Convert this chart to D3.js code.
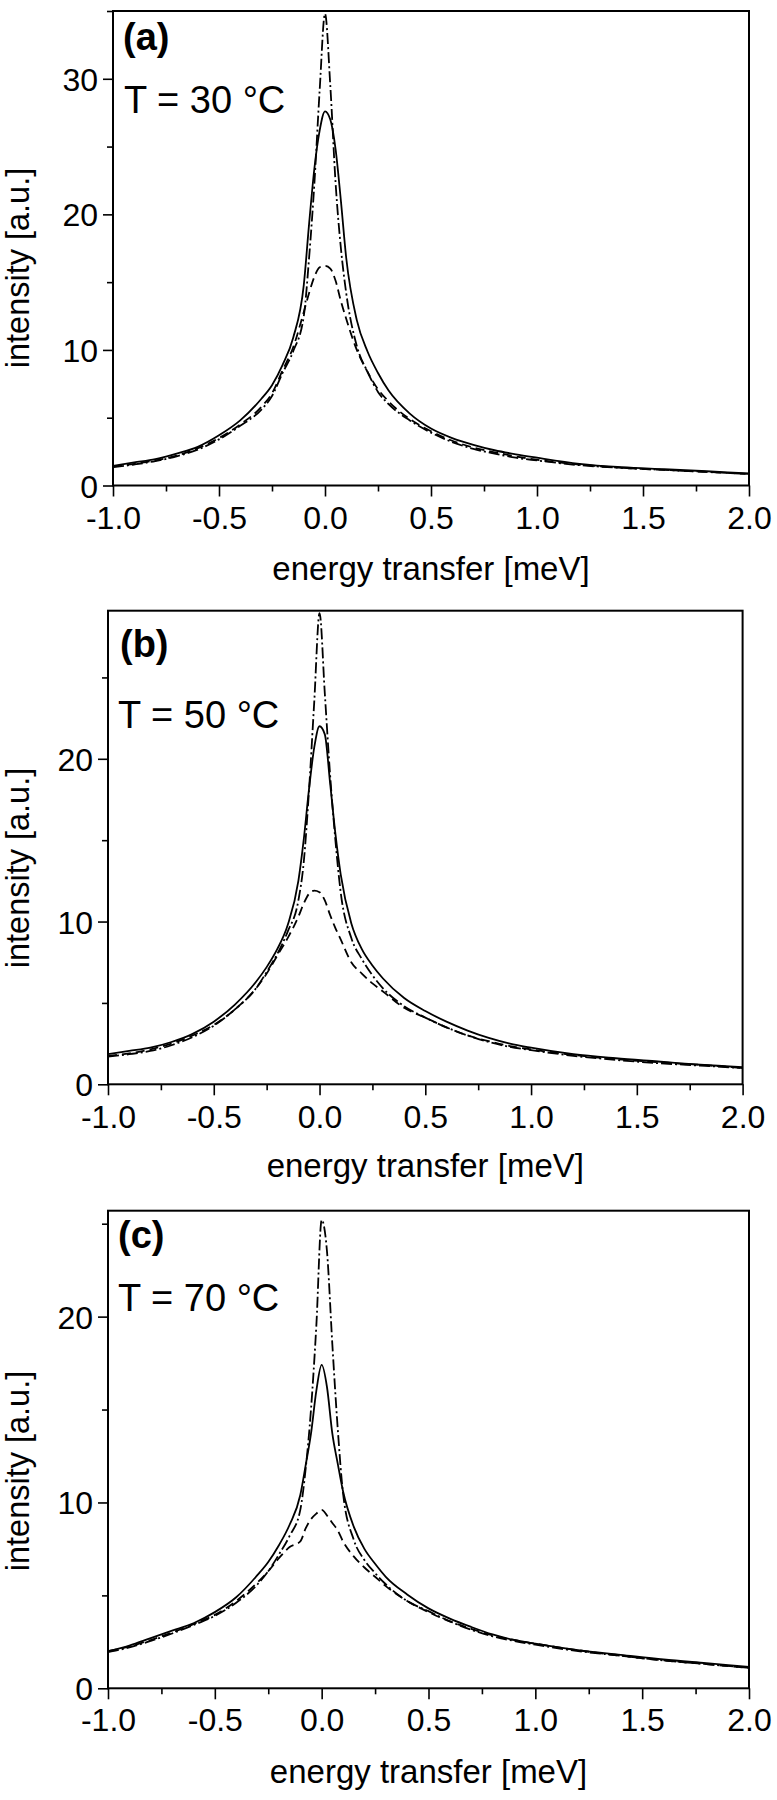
<!DOCTYPE html>
<html>
<head>
<meta charset="utf-8">
<script src="https://cdn.jsdelivr.net/npm/d3@7/dist/d3.min.js"></script>
<style>
  body { margin: 0; background: #fff; }
  svg { display: block; }
  text { font-family: "Liberation Sans", Arial, sans-serif; fill: #000; }
</style>
</head>
<body>
<script>
// energy transfer grid [meV]
const energy = [-1.0,-0.9,-0.8,-0.7,-0.6,-0.5,-0.4,-0.3,-0.25,-0.2,-0.15,-0.1,-0.075,-0.05,-0.025,0,
                0.025,0.05,0.075,0.1,0.15,0.2,0.25,0.3,0.4,0.5,0.6,0.7,0.8,0.9,1.0,1.2,1.4,1.6,1.8,2.0];

// (a) T = 30 °C
const a_solid   = [1.45,1.7,1.95,2.35,2.85,3.7,4.8,6.4,7.4,8.9,10.9,14.8,19.3,23.4,26.2,27.6,
                   27.0,24.8,21.0,16.8,12.2,9.9,8.3,7.0,5.3,4.2,3.5,3.0,2.6,2.3,2.05,1.6,1.35,1.2,1.05,0.9];
const a_dash    = [1.4,1.6,1.85,2.2,2.75,3.5,4.5,5.8,6.8,8.5,10.2,12.8,14.2,15.4,16.1,16.2,
                   16.0,15.1,13.6,12.3,10.0,8.4,7.1,6.2,4.9,4.0,3.3,2.8,2.45,2.15,1.9,1.55,1.3,1.15,1.0,0.85];
const a_dashdot = [1.35,1.55,1.8,2.15,2.65,3.4,4.4,5.6,6.6,8.3,9.9,12.5,16.8,22.3,29.2,34.8,
                   29.5,22.3,17.5,14.2,10.3,8.4,6.9,6.0,4.8,3.9,3.2,2.7,2.35,2.05,1.85,1.5,1.3,1.15,1.0,0.85];

// (b) T = 50 °C
const b_solid   = [1.85,2.05,2.25,2.6,3.1,3.85,4.9,6.3,7.2,8.3,9.8,12.5,15.0,18.1,20.7,22.0,
                   21.5,18.5,15.4,12.9,9.9,8.3,7.3,6.5,5.3,4.5,3.85,3.3,2.85,2.5,2.25,1.85,1.6,1.4,1.2,1.05];
const b_dash    = [1.75,1.9,2.15,2.5,3.0,3.65,4.6,5.9,6.8,7.9,9.0,10.3,11.1,11.7,11.9,11.8,
                   11.3,10.4,9.6,8.9,7.5,6.8,6.2,5.7,4.7,4.1,3.5,3.0,2.65,2.35,2.15,1.8,1.55,1.35,1.2,1.0];
const b_dashdot = [1.7,1.85,2.05,2.4,2.9,3.6,4.6,5.9,6.9,8.0,9.4,11.3,13.6,18.0,23.5,28.95,
                   24.0,19.0,15.0,11.8,9.0,7.7,6.7,5.9,4.8,4.1,3.5,3.0,2.6,2.3,2.1,1.75,1.5,1.3,1.15,1.0];

// (c) T = 70 °C
const c_solid   = [2.0,2.3,2.7,3.1,3.5,4.1,4.9,6.1,6.8,7.7,8.8,10.4,12.0,13.7,16.0,17.4,
                   16.2,13.7,12.1,10.6,8.7,7.5,6.7,6.0,5.05,4.3,3.75,3.3,2.9,2.6,2.4,2.05,1.8,1.55,1.35,1.15];
const c_dash    = [2.0,2.25,2.6,3.0,3.45,3.95,4.7,5.7,6.3,7.0,7.6,7.9,8.6,9.1,9.4,9.6,
                   9.3,8.9,8.5,7.9,7.1,6.5,6.0,5.5,4.7,4.1,3.6,3.2,2.85,2.6,2.4,2.05,1.75,1.5,1.3,1.1];
const c_dashdot = [1.95,2.2,2.55,2.95,3.4,3.9,4.6,5.6,6.3,7.2,8.2,9.6,11.8,15.0,19.5,25.2,
                   23.5,18.5,14.0,10.5,8.0,6.9,6.2,5.6,4.7,4.15,3.6,3.15,2.8,2.55,2.35,2.0,1.75,1.5,1.3,1.1];

// axis ticks
const xMajor = [-1.0,-0.5,0.0,0.5,1.0,1.5,2.0];
const xMinor = [-0.75,-0.25,0.25,0.75,1.25,1.75];
const yMajorA = [0,10,20,30], yMinorA = [5,15,25,35];
const yMajorB = [0,10,20],    yMinorB = [5,15,25];
const yMajorC = [0,10,20],    yMinorC = [5,15,25];

const panelLetters = ["(a)","(b)","(c)"];
const tempLabels = ["T = 30 °C","T = 50 °C","T = 70 °C"];
const xTitle = "energy transfer [meV]";
const yTitle = "intensity [a.u.]";

const panels = [
  {letter: panelLetters[0], temp: tempLabels[0], series: [a_solid, a_dash, a_dashdot], ymax: 35, yMajor: yMajorA, yMinor: yMinorA,
   L: 113, R: 749, T: 11, B: 485.5, letterPos: [123, 50], tempPos: [124, 113], tickBase: 528.5, xTitleBase: 580, yTitleCy: 268},
  {letter: panelLetters[1], temp: tempLabels[1], series: [b_solid, b_dash, b_dashdot], ymax: 29.1, yMajor: yMajorB, yMinor: yMinorB,
   L: 108, R: 742.6, T: 610.7, B: 1084.3, letterPos: [120, 657], tempPos: [118, 728], tickBase: 1127.5, xTitleBase: 1177, yTitleCy: 868},
  {letter: panelLetters[2], temp: tempLabels[2], series: [c_solid, c_dash, c_dashdot], ymax: 25.7, yMajor: yMajorC, yMinor: yMinorC,
   L: 108, R: 749, T: 1210.7, B: 1688.3, letterPos: [118, 1248], tempPos: [118, 1311], tickBase: 1731.3, xTitleBase: 1783, yTitleCy: 1471}
];

const styles = [
  {dash: null},
  {dash: "9,5"},
  {dash: "11,3,2,3"}
];

const svg = d3.select("body").append("svg").attr("width", 777).attr("height", 1800);

panels.forEach(p => {
  const x = d3.scaleLinear().domain([-1, 2]).range([p.L, p.R]);
  const y = d3.scaleLinear().domain([0, p.ymax]).range([p.B, p.T]);
  const g = svg.append("g");

  const clipId = "clip" + p.letter.replace(/[()]/g, "");
  svg.append("clipPath").attr("id", clipId).append("rect")
    .attr("x", p.L).attr("y", p.T - 1).attr("width", p.R - p.L).attr("height", p.B - p.T + 1);
  const line = d3.line().x((d, i) => x(energy[i])).y(d => y(d)).curve(d3.curveMonotoneX);
  p.series.forEach((s, k) => {
    g.append("path").datum(s)
      .attr("d", line)
      .attr("fill", "none")
      .attr("stroke", "#000")
      .attr("stroke-width", 1.8)
      .attr("stroke-dasharray", styles[k].dash)
      .attr("clip-path", `url(#${clipId})`);
  });

  // x axis major
  const xa = g.append("g").attr("transform", `translate(0,${p.B})`)
    .call(d3.axisBottom(x).tickValues(xMajor).tickSize(11).tickSizeOuter(0).tickFormat(d3.format(".1f")));
  xa.select(".domain").remove();
  xa.selectAll("line").attr("stroke-width", 1.6);
  xa.selectAll("text").attr("font-size", 32).attr("y", null).attr("dy", null)
    .attr("transform", `translate(0,${p.tickBase - p.B})`)
    .text(d => d3.format(".1f")(d).replace("−", "-"));
  // x axis minor
  const xm = g.append("g").attr("transform", `translate(0,${p.B})`)
    .call(d3.axisBottom(x).tickValues(xMinor).tickSize(6).tickSizeOuter(0).tickFormat(""));
  xm.select(".domain").remove();
  xm.selectAll("line").attr("stroke-width", 1.6);

  // y axis major
  const ya = g.append("g").attr("transform", `translate(${p.L},0)`)
    .call(d3.axisLeft(y).tickValues(p.yMajor).tickSize(10).tickSizeOuter(0).tickFormat(d3.format("d")));
  ya.select(".domain").remove();
  ya.selectAll("line").attr("stroke-width", 1.6);
  ya.selectAll("text").attr("font-size", 32).attr("x", -15).attr("dy", "0.36em");
  // y axis minor
  const ym = g.append("g").attr("transform", `translate(${p.L},0)`)
    .call(d3.axisLeft(y).tickValues(p.yMinor.filter(v => v <= p.ymax)).tickSize(6).tickSizeOuter(0).tickFormat(""));
  ym.select(".domain").remove();
  ym.selectAll("line").attr("stroke-width", 1.6);

  // frame
  g.append("rect").attr("x", p.L).attr("y", p.T).attr("width", p.R - p.L).attr("height", p.B - p.T)
    .attr("fill", "none").attr("stroke", "#000").attr("stroke-width", 2);

  // labels
  g.append("text").attr("x", p.letterPos[0]).attr("y", p.letterPos[1])
    .attr("font-size", 38).attr("font-weight", "bold").text(p.letter);
  g.append("text").attr("x", p.tempPos[0]).attr("y", p.tempPos[1])
    .attr("font-size", 38).text(p.temp);
  g.append("text").attr("x", (p.L + p.R) / 2).attr("y", p.xTitleBase)
    .attr("text-anchor", "middle").attr("font-size", 33).text(xTitle);
  g.append("text").attr("transform", `translate(29,${p.yTitleCy}) rotate(-90)`)
    .attr("text-anchor", "middle").attr("font-size", 32.5).text(yTitle);
});
</script>
</body>
</html>
